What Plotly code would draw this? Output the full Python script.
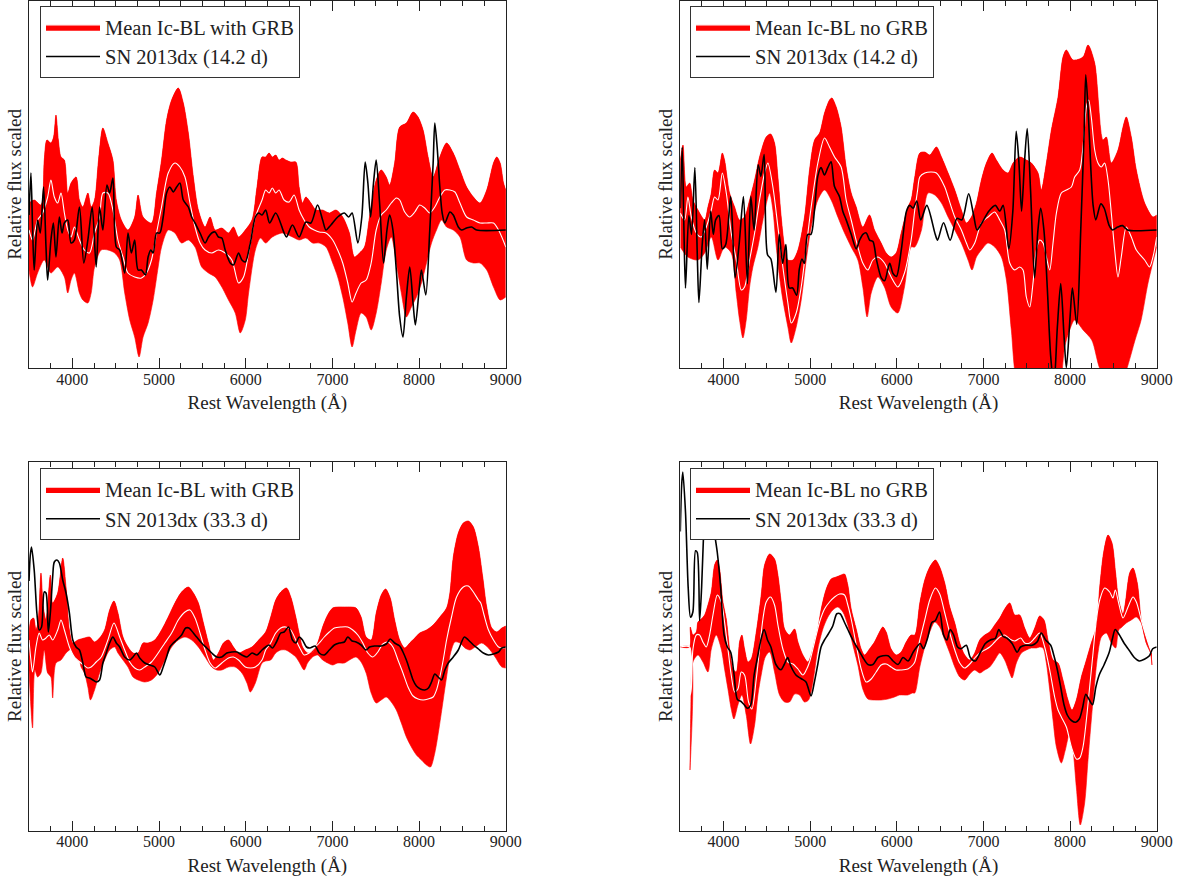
import plotly.graph_objects as go

# ---------------- data: (rest wavelength [A], relative flux) ----------------
# Panel 1: mean Ic-BL with GRB vs SN 2013dx (14.2 d)
grb14_upper = [(3500,27),(3560,30),(3638,25),(3676,70),(3707,90),(3753,87),(3784,93),(3811,115),(3839,90),(3869,73),(3908,70),(3947,37),(3985,47),(4043,53),(4082,30),(4121,23),(4179,37),(4217,23),(4256,30),(4302,70),(4352,102),(4410,87),(4468,70),(4507,30),(4565,10),(4642,0),(4719,13),(4758,35),(4816,13),(4913,7),(4971,37),(5029,70),(5087,110),(5145,130),(5222,142),(5280,127),(5338,97),(5396,53),(5454,20),(5531,3),(5589,13),(5647,0),(5724,2),(5801,-3),(5859,3),(5917,-7),(5995,0),(6072,10),(6130,43),(6188,73),(6230,73),(6269,77),(6307,73),(6346,75),(6385,70),(6423,72),(6462,70),(6520,68),(6578,68),(6616,43),(6655,27),(6694,33),(6752,27),(6810,20),(6887,20),(6964,17),(7041,20),(7119,13),(7196,-3),(7254,-27),(7312,-23),(7370,-17),(7428,13),(7505,50),(7563,60),(7621,53),(7660,45),(7718,67),(7776,103),(7853,107),(7930,118),(7988,113),(8046,100),(8104,73),(8162,53),(8239,73),(8317,87),(8394,77),(8471,60),(8548,43),(8626,33),(8703,27),(8780,40),(8858,67),(8896,73),(8935,67),(8974,47),(9000,40)]
grb14_lower = [(3500,-40),(3541,-57),(3599,-43),(3676,-30),(3753,-43),(3831,-37),(3908,-47),(3947,-63),(3985,-50),(4024,-43),(4082,-63),(4121,-70),(4179,-73),(4217,-63),(4256,-37),(4333,-20),(4410,-20),(4488,-23),(4546,-30),(4604,-63),(4662,-90),(4719,-107),(4770,-127),(4816,-107),(4874,-93),(4932,-70),(4990,-37),(5029,-17),(5106,0),(5183,-3),(5260,-13),(5338,-10),(5415,-17),(5492,-37),(5570,-43),(5647,-47),(5724,-57),(5801,-70),(5879,-83),(5937,-103),(5995,-90),(6033,-63),(6111,-20),(6170,-8),(6230,-13),(6307,-7),(6423,-3),(6539,-7),(6616,-10),(6694,-8),(6771,-13),(6848,-13),(6926,-17),(7003,-33),(7061,-47),(7119,-67),(7177,-93),(7227,-117),(7273,-100),(7331,-83),(7389,-87),(7447,-100),(7505,-83),(7563,-53),(7621,-20),(7679,-7),(7737,-33),(7795,-63),(7853,-87),(7911,-77),(7969,-67),(8027,-53),(8085,-33),(8143,-13),(8201,0),(8259,10),(8317,3),(8394,0),(8471,-7),(8548,-30),(8626,-33),(8703,-33),(8780,-40),(8858,-57),(8935,-70),(9000,-67)]
grb14_mean = [(3500,0),(3541,-10),(3599,10),(3657,17),(3715,33),(3753,50),(3792,33),(3831,27),(3869,37),(3908,17),(3947,0),(3985,-7),(4024,3),(4082,-10),(4140,-20),(4198,-23),(4256,-3),(4314,13),(4352,37),(4410,37),(4468,20),(4526,-10),(4584,-27),(4642,-43),(4719,-47),(4797,-48),(4855,-43),(4913,-30),(4971,-3),(5029,23),(5106,57),(5183,67),(5241,63),(5299,53),(5357,27),(5415,3),(5473,-13),(5531,-20),(5608,-23),(5685,-20),(5763,-23),(5840,-30),(5917,-53),(5975,-47),(6033,-23),(6111,13),(6188,30),(6230,40),(6269,37),(6307,42),(6346,37),(6385,40),(6443,30),(6500,28),(6558,35),(6616,20),(6674,10),(6732,3),(6790,0),(6848,-2),(6926,-3),(7003,-10),(7061,-20),(7119,-33),(7177,-53),(7227,-72),(7273,-63),(7331,-53),(7389,-50),(7447,-33),(7505,0),(7563,15),(7621,20),(7679,27),(7737,32),(7776,30),(7834,18),(7891,13),(7950,18),(8007,25),(8065,22),(8123,17),(8181,23),(8239,33),(8297,40),(8355,40),(8413,38),(8471,27),(8548,13),(8626,10),(8703,7),(8780,7),(8858,7),(8916,0),(8954,-7),(9000,-17)]

# SN 2013dx at 14.2 d (shared by panels 1 and 2)
sn14 = [(3500,15),(3522,57),(3541,3),(3560,-40),(3599,10),(3630,-3),(3668,43),(3696,-17),(3715,-50),(3753,-10),(3781,7),(3811,-27),(3850,13),(3881,-3),(3908,7),(3947,10),(3985,-13),(4024,-10),(4082,23),(4132,-33),(4179,-10),(4229,23),(4275,-37),(4314,23),(4352,0),(4399,45),(4430,37),(4468,52),(4507,-17),(4546,-20),(4604,-43),(4642,-3),(4681,-23),(4719,-10),(4758,-40),(4797,-40),(4843,-45),(4874,-27),(4905,-20),(4932,-23),(4971,-3),(5009,-3),(5048,13),(5087,37),(5125,43),(5164,38),(5203,43),(5241,47),(5280,30),(5338,23),(5376,13),(5415,7),(5473,-3),(5531,-13),(5570,-7),(5608,-3),(5647,-2),(5685,-7),(5724,-8),(5763,-20),(5821,-33),(5859,-35),(5917,-23),(5956,-30),(5995,-32),(6053,-13),(6111,13),(6149,17),(6188,15),(6230,20),(6276,7),(6346,17),(6443,-3),(6470,-7),(6539,5),(6616,-7),(6694,8),(6752,7),(6829,25),(6887,10),(6926,0),(6983,5),(7061,13),(7138,17),(7188,13),(7227,17),(7293,-13),(7339,13),(7378,68),(7409,47),(7440,13),(7474,47),(7505,70),(7544,27),(7590,-33),(7629,0),(7660,15),(7698,0),(7737,-40),(7776,-87),(7814,-107),(7853,-67),(7892,-37),(7930,-73),(7957,-95),(8000,-60),(8027,-40),(8077,-65),(8123,0),(8162,67),(8181,107),(8208,83),(8239,43),(8266,17),(8297,7),(8355,18),(8394,15),(8452,3),(8490,0),(8548,2),(8606,3),(8664,0),(9000,0)]

# Panel 2: mean Ic-BL without GRB
nogrb14_upper = [(3500,70),(3531,85),(3569,43),(3608,47),(3646,30),(3704,20),(3781,10),(3819,23),(3858,37),(3896,60),(3935,57),(3985,77),(4011,70),(4069,37),(4127,23),(4184,10),(4242,13),(4300,30),(4358,50),(4415,73),(4492,93),(4542,96),(4588,87),(4627,53),(4665,13),(4704,-17),(4742,-30),(4800,-30),(4858,-20),(4934,13),(4992,60),(5050,90),(5108,97),(5165,117),(5223,130),(5250,132),(5300,123),(5357,103),(5415,63),(5473,37),(5531,23),(5607,3),(5684,15),(5742,0),(5819,-13),(5877,-23),(5934,-27),(5992,-23),(6050,-3),(6127,23),(6165,30),(6207,53),(6265,77),(6322,78),(6380,75),(6457,83),(6515,73),(6592,57),(6669,40),(6745,20),(6803,7),(6861,13),(6919,27),(6976,50),(7034,67),(7099,77),(7149,70),(7226,60),(7284,57),(7342,67),(7418,73),(7495,70),(7553,67),(7630,57),(7668,40),(7726,67),(7784,100),(7861,133),(7918,173),(7957,180),(8034,170),(8149,173),(8207,185),(8284,167),(8380,90),(8418,93),(8476,67),(8553,80),(8611,103),(8649,113),(8707,93),(8765,60),(8861,27),(8957,13),(9000,15)]
nogrb14_lower = [(3500,-17),(3588,-27),(3704,-30),(3781,-23),(3858,-7),(3935,-30),(4011,-17),(4088,-23),(4146,-63),(4184,-90),(4223,-108),(4261,-90),(4300,-57),(4338,-37),(4396,-17),(4454,10),(4531,37),(4569,20),(4608,-17),(4646,-47),(4684,-70),(4742,-97),(4781,-113),(4838,-97),(4896,-70),(4954,-30),(5011,3),(5088,30),(5165,40),(5242,30),(5319,13),(5396,-3),(5473,-17),(5550,-30),(5607,-57),(5657,-87),(5704,-63),(5781,-47),(5857,-57),(5934,-77),(6011,-83),(6088,-57),(6165,-17),(6207,-17),(6284,0),(6361,37),(6438,35),(6515,27),(6592,13),(6669,0),(6745,-13),(6822,-30),(6868,-40),(6919,-27),(6976,-20),(7053,-13),(7130,-17),(7207,-27),(7265,-50),(7322,-100),(7380,-150),(7476,-167),(7592,-160),(7668,-140),(7745,-150),(7861,-167),(7938,-117),(7995,-100),(8053,-90),(8150,-100),(8250,-110),(8350,-140),(8450,-150),(8550,-160),(8650,-140),(8750,-110),(8820,-90),(8900,-53),(9000,-17)]
nogrb14_mean = [(3500,17),(3550,10),(3588,33),(3627,13),(3685,-3),(3742,-7),(3800,3),(3858,20),(3896,33),(3935,30),(3985,57),(4031,37),(4088,-3),(4146,-30),(4204,-60),(4242,-57),(4300,-30),(4358,-3),(4415,30),(4473,57),(4511,67),(4569,43),(4627,3),(4684,-37),(4742,-73),(4781,-93),(4838,-83),(4896,-57),(4954,-17),(5011,23),(5088,67),(5165,92),(5223,83),(5281,73),(5357,63),(5415,30),(5473,10),(5550,-17),(5607,-33),(5665,-40),(5723,-30),(5781,-27),(5857,-33),(5934,-47),(6011,-57),(6088,-43),(6165,-10),(6207,20),(6240,40),(6265,53),(6322,57),(6399,58),(6457,57),(6553,43),(6592,33),(6669,13),(6745,0),(6803,-13),(6842,-20),(6899,-13),(6976,7),(7053,13),(7130,18),(7188,10),(7245,0),(7303,-33),(7361,-40),(7418,-37),(7457,-40),(7495,-67),(7534,-77),(7572,-53),(7611,-20),(7649,-10),(7688,-13),(7726,-27),(7765,-40),(7803,-13),(7842,17),(7899,37),(7957,40),(8015,43),(8053,53),(8111,60),(8149,83),(8188,123),(8215,130),(8245,113),(8284,80),(8322,67),(8361,63),(8399,67),(8438,50),(8476,17),(8515,-20),(8553,-47),(8591,-27),(8649,3),(8707,-7),(8765,-20),(8861,-30),(8918,-37),(8957,-27),(9000,-7)]

# Panel 3: mean Ic-BL with GRB vs SN 2013dx (33.3 d)
grb33_upper = [(3500,10),(3522,27),(3553,29),(3580,17),(3607,27),(3638,74),(3665,40),(3696,27),(3746,72),(3773,44),(3831,54),(3889,89),(3927,60),(3966,17),(4005,4),(4063,7),(4140,9),(4198,10),(4256,5),(4314,9),(4372,17),(4430,37),(4480,46),(4526,34),(4584,10),(4642,0),(4700,-6),(4758,-6),(4816,4),(4874,4),(4951,7),(5029,17),(5106,30),(5183,44),(5260,55),(5338,60),(5396,54),(5454,44),(5512,24),(5570,4),(5627,-13),(5685,-6),(5743,4),(5801,7),(5859,0),(5917,-6),(5995,-3),(6072,0),(6149,7),(6230,15),(6288,30),(6346,47),(6404,55),(6470,59),(6520,50),(6578,30),(6616,14),(6655,0),(6713,-6),(6771,-5),(6829,4),(6887,20),(6945,32),(7003,39),(7061,40),(7138,40),(7215,40),(7273,39),(7331,30),(7389,10),(7447,7),(7505,34),(7563,52),(7613,58),(7667,49),(7718,27),(7776,7),(7834,-1),(7892,4),(7950,9),(8007,14),(8085,17),(8162,22),(8239,30),(8317,39),(8355,54),(8394,90),(8452,114),(8510,124),(8568,126),(8626,120),(8684,100),(8734,70),(8780,40),(8838,19),(8896,15),(8954,19),(9000,21)]
grb33_lower = [(3500,-23),(3522,-60),(3541,-81),(3568,-23),(3599,-30),(3638,-26),(3676,-3),(3715,-26),(3753,-30),(3773,-51),(3811,-16),(3869,-13),(3927,-6),(3966,-3),(4024,0),(4063,-3),(4101,-20),(4140,-26),(4179,-40),(4209,-53),(4256,-43),(4314,-26),(4372,-13),(4430,-3),(4488,0),(4526,-6),(4584,-13),(4642,-20),(4700,-30),(4758,-33),(4835,-35),(4913,-33),(4990,-26),(5067,-13),(5145,0),(5222,7),(5299,10),(5376,7),(5454,0),(5531,-10),(5608,-20),(5666,-23),(5724,-23),(5801,-20),(5879,-20),(5956,-26),(6014,-36),(6053,-45),(6111,-36),(6188,-16),(6230,-14),(6288,-13),(6346,-6),(6404,-3),(6462,-3),(6520,-6),(6578,-10),(6616,-15),(6674,-23),(6713,-16),(6771,-10),(6829,-8),(6887,-13),(6945,-16),(7003,-18),(7061,-16),(7138,-16),(7215,-12),(7273,-10),(7331,-15),(7389,-26),(7447,-46),(7505,-56),(7563,-53),(7621,-50),(7679,-55),(7737,-63),(7795,-76),(7853,-90),(7911,-100),(7969,-108),(8027,-113),(8085,-118),(8131,-120),(8181,-106),(8232,-80),(8278,-53),(8317,-30),(8363,-6),(8413,5),(8471,4),(8529,-1),(8587,-3),(8645,0),(8722,4),(8800,-1),(8877,-10),(8954,-20),(9000,-21)]
grb33_mean = [(3500,7),(3522,-13),(3541,-25),(3580,0),(3618,14),(3657,7),(3696,9),(3734,12),(3773,7),(3831,17),(3869,27),(3908,17),(3966,0),(4024,-10),(4101,-16),(4179,-21),(4217,-20),(4275,-15),(4333,-10),(4410,7),(4480,24),(4546,10),(4604,-3),(4662,-15),(4719,-21),(4777,-23),(4835,-20),(4913,-15),(4990,-6),(5067,4),(5145,14),(5222,27),(5299,35),(5357,37),(5415,29),(5473,14),(5531,-3),(5589,-16),(5647,-21),(5724,-16),(5801,-11),(5859,-10),(5917,-13),(5995,-20),(6053,-21),(6111,-20),(6188,-13),(6230,-3),(6288,4),(6346,14),(6404,19),(6462,20),(6520,17),(6578,7),(6636,-3),(6674,-8),(6732,-6),(6790,-1),(6848,4),(6906,10),(6964,15),(7022,19),(7099,20),(7177,20),(7235,17),(7293,12),(7351,4),(7409,-6),(7466,-10),(7524,-5),(7582,3),(7640,5),(7698,0),(7756,-13),(7814,-26),(7872,-40),(7930,-49),(7988,-52),(8046,-53),(8104,-52),(8162,-50),(8201,-43),(8239,-30),(8278,-13),(8317,7),(8374,30),(8432,50),(8510,60),(8568,61),(8626,55),(8684,47),(8711,44),(8749,32),(8800,17),(8858,7),(8916,0),(8974,-1),(9000,0)]

# SN 2013dx at 33.3 d (shared by panels 3 and 4)
sn33 = [(3500,66),(3515,92),(3529,100),(3560,77),(3591,34),(3618,17),(3645,20),(3676,55),(3696,54),(3723,15),(3746,34),(3773,70),(3792,85),(3823,87),(3850,84),(3889,67),(3927,54),(3966,34),(4005,7),(4043,0),(4082,-3),(4121,-16),(4159,-30),(4198,-31),(4237,-33),(4275,-35),(4314,-33),(4352,-16),(4391,-6),(4430,4),(4468,10),(4507,4),(4546,0),(4604,-10),(4662,-13),(4700,-10),(4739,-6),(4777,-11),(4835,-16),(4893,-18),(4951,-20),(5009,-28),(5048,-20),(5087,-10),(5125,0),(5164,4),(5203,7),(5260,12),(5307,19),(5345,19),(5396,14),(5434,10),(5492,4),(5550,-1),(5608,-6),(5666,-10),(5724,-10),(5782,-6),(5840,-5),(5898,-5),(5956,-8),(6014,-10),(6072,-6),(6130,-8),(6188,-3),(6230,0),(6269,2),(6307,-1),(6354,5),(6404,14),(6443,15),(6493,20),(6539,7),(6578,4),(6616,10),(6655,7),(6701,0),(6740,-1),(6802,1),(6848,-6),(6906,-8),(6964,-3),(7022,2),(7080,4),(7138,5),(7177,10),(7227,6),(7273,5),(7331,2),(7389,-3),(7428,0),(7486,1),(7563,1),(7621,3),(7667,8),(7718,4),(7776,1),(7814,-5),(7853,-13),(7892,-23),(7930,-33),(7969,-39),(8015,-42),(8065,-43),(8108,-41),(8143,-35),(8181,-27),(8220,-30),(8259,-33),(8297,-23),(8336,-16),(8394,-10),(8452,-3),(8490,5),(8521,10),(8568,7),(8626,2),(8684,-2),(8741,-6),(8800,-8),(8858,-7),(8916,-5),(8954,-1),(9000,0)]

# Panel 4: mean Ic-BL without GRB
nogrb33_upper = [(3500,0),(3608,0),(3615,20),(3646,12),(3685,15),(3704,25),(3742,28),(3781,32),(3819,42),(3858,55),(3896,82),(3927,87),(3954,78),(3992,45),(4031,28),(4069,-2),(4108,-22),(4146,-25),(4184,5),(4211,12),(4242,-2),(4281,-15),(4319,-12),(4377,15),(4434,52),(4473,82),(4531,93),(4588,88),(4627,72),(4665,45),(4704,18),(4761,12),(4819,18),(4858,5),(4915,-8),(4973,-15),(5011,-8),(5050,5),(5088,18),(5127,38),(5185,58),(5242,68),(5300,70),(5357,72),(5396,73),(5434,62),(5473,38),(5531,18),(5588,-2),(5627,-8),(5684,-2),(5742,5),(5800,15),(5838,20),(5877,15),(5934,-2),(5992,-8),(6050,-5),(6108,5),(6165,12),(6207,12),(6265,44),(6322,67),(6380,80),(6445,87),(6495,80),(6553,64),(6611,40),(6669,24),(6726,4),(6784,-8),(6842,-13),(6899,-6),(6957,7),(7015,12),(7072,15),(7130,22),(7188,29),(7245,38),(7303,44),(7361,32),(7418,32),(7476,19),(7534,9),(7592,19),(7649,31),(7699,27),(7745,7),(7803,-13),(7861,-16),(7918,-33),(7976,-53),(8022,-63),(8072,-53),(8130,-30),(8188,-13),(8245,4),(8303,20),(8342,60),(8388,95),(8438,112),(8484,104),(8526,74),(8561,47),(8611,33),(8638,44),(8688,74),(8726,79),(8776,64),(8822,27),(8880,4),(8930,-6),(8945,-18)]
nogrb33_lower = [(3500,0),(3608,0),(3612,-123),(3622,-60),(3646,-15),(3704,-8),(3761,-15),(3819,-25),(3858,-2),(3915,12),(3973,-2),(4011,-22),(4050,-42),(4088,-62),(4119,-72),(4165,-58),(4211,-48),(4261,-68),(4311,-97),(4358,-78),(4396,-48),(4434,-28),(4481,-10),(4531,-5),(4588,-25),(4646,-48),(4704,-55),(4761,-55),(4819,-47),(4877,-48),(4934,-55),(4981,-53),(5031,-35),(5088,-2),(5146,18),(5204,30),(5261,37),(5319,40),(5377,35),(5434,22),(5492,2),(5550,-18),(5607,-42),(5665,-52),(5742,-53),(5819,-53),(5896,-52),(5973,-50),(6031,-48),(6127,-48),(6180,-46),(6207,-46),(6265,-20),(6322,0),(6380,15),(6438,25),(6495,20),(6553,7),(6611,-6),(6669,-20),(6726,-30),(6784,-33),(6842,-27),(6899,-23),(6957,-26),(7015,-23),(7072,-20),(7130,-13),(7188,-6),(7245,-13),(7303,-26),(7330,-31),(7380,-16),(7438,-6),(7495,-3),(7553,-1),(7611,-1),(7649,0),(7688,-1),(7726,-16),(7765,-43),(7803,-73),(7842,-100),(7899,-116),(7945,-103),(7995,-86),(8034,-103),(8072,-140),(8118,-178),(8168,-156),(8207,-113),(8245,-73),(8284,-36),(8322,-6),(8361,10),(8418,14),(8476,4),(8526,-1),(8561,17),(8599,20),(8649,24),(8707,27),(8765,30),(8822,24),(8880,4),(8930,-6),(8945,-18)]
nogrb33_mean = [(3500,0),(3608,0),(3615,-48),(3627,-42),(3646,-2),(3685,12),(3723,12),(3761,5),(3800,0),(3838,12),(3877,32),(3927,52),(3973,45),(4011,25),(4050,-2),(4088,-28),(4127,-45),(4165,-42),(4204,-25),(4242,-28),(4288,-55),(4327,-62),(4377,-32),(4415,-2),(4454,28),(4492,45),(4542,50),(4588,42),(4627,22),(4684,-2),(4742,-15),(4800,-17),(4858,-22),(4915,-28),(4954,-23),(4992,-15),(5050,5),(5108,25),(5165,38),(5223,45),(5281,50),(5338,53),(5396,52),(5434,42),(5473,28),(5531,2),(5588,-22),(5646,-35),(5704,-32),(5761,-25),(5819,-18),(5877,-17),(5934,-20),(5992,-23),(6050,-23),(6127,-22),(6184,-18),(6207,-15),(6265,7),(6322,27),(6380,47),(6445,59),(6495,53),(6553,34),(6611,14),(6669,-3),(6726,-16),(6784,-21),(6842,-17),(6899,-11),(6957,-6),(7015,-3),(7072,0),(7130,5),(7188,10),(7245,12),(7303,8),(7361,6),(7430,9),(7476,4),(7534,4),(7592,9),(7649,14),(7707,0),(7765,-23),(7822,-50),(7861,-63),(7899,-70),(7957,-80),(8015,-100),(8072,-112),(8111,-111),(8149,-100),(8188,-73),(8226,-40),(8265,-6),(8303,27),(8342,47),(8399,59),(8457,55),(8495,49),(8522,57),(8561,44),(8611,29),(8669,40),(8726,50),(8765,45),(8822,27),(8880,10),(8918,0),(8945,-6)]

# relative scaling of the SN spectrum in each panel
sn_scale = [1.0, 1.45, 1.0, 1.75]

mean_labels = ["Mean Ic-BL with GRB", "Mean Ic-BL no GRB", "Mean Ic-BL with GRB", "Mean Ic-BL no GRB"]
sn_labels = ["SN 2013dx (14.2 d)", "SN 2013dx (14.2 d)", "SN 2013dx (33.3 d)", "SN 2013dx (33.3 d)"]

bands = [
    (grb14_upper, grb14_lower, grb14_mean, sn14),
    (nogrb14_upper, nogrb14_lower, nogrb14_mean, sn14),
    (grb33_upper, grb33_lower, grb33_mean, sn33),
    (nogrb33_upper, nogrb33_lower, nogrb33_mean, sn33),
]

# ---------------- figure ----------------
W, H = 1178, 879
RED = "#ff0000"
FONT = "Liberation Serif"
INK = "#222222"

fig = go.Figure()


def xy(pairs, k=1.0):
    return [p[0] for p in pairs], [p[1] * k for p in pairs]


legend_ids = ["legend", "legend2", "legend3", "legend4"]
for i, (up, lo, mn, sn) in enumerate(bands):
    ax = "" if i == 0 else str(i + 1)
    xa, ya = "x" + ax, "y" + ax
    spline = dict(shape="spline", smoothing=0.8)
    lx, ly = xy(lo)
    ux, uy = xy(up)
    mx, my = xy(mn)
    sx, sy = xy(sn, sn_scale[i])
    fig.add_trace(go.Scatter(x=lx, y=ly, mode="lines", line=dict(color=RED, width=0.6, **spline),
                             showlegend=False, hoverinfo="skip", xaxis=xa, yaxis=ya))
    fig.add_trace(go.Scatter(x=ux, y=uy, mode="lines", line=dict(color=RED, width=0.6, **spline),
                             fill="tonexty", fillcolor=RED, showlegend=False, hoverinfo="skip",
                             xaxis=xa, yaxis=ya))
    fig.add_trace(go.Scatter(x=mx, y=my, mode="lines", line=dict(color="white", width=1.1, **spline),
                             fill="tonexty", fillcolor=RED, name=mean_labels[i],
                             legend=legend_ids[i], legendgroup="mean%d" % i,
                             xaxis=xa, yaxis=ya))
    fig.add_trace(go.Scatter(x=sx, y=sy, mode="lines", line=dict(color="black", width=1.6, **spline),
                             name=sn_labels[i], legend=legend_ids[i], legendgroup="sn%d" % i,
                             xaxis=xa, yaxis=ya))

# panel geometry (pixels)
x_dom = [(29, 505.8), (680.3, 1156.7)]
y_dom = [(0.5, 368.3), (462.3, 830.7)]
y_rng = [(-138.3, 229.5), (-183.7, 184.7)]

common_x = dict(range=[3500, 9000], dtick=1000, tick0=0, tickformat="d",
                ticks="inside", ticklen=10, tickwidth=1, tickcolor=INK,
                mirror="allticks", showline=True, linecolor=INK, linewidth=1,
                showgrid=False, zeroline=False, automargin=False,
                ticklabelstandoff=-4,
                minor=dict(dtick=250, tick0=0, ticks="inside", ticklen=5, tickwidth=1,
                           tickcolor=INK, showgrid=False),
                tickfont=dict(family=FONT, size=16, color=INK),
                title=dict(text="Rest Wavelength (Å)", font=dict(family=FONT, size=19, color=INK),
                           standoff=9))
common_y = dict(showticklabels=False, ticks="", showline=True, mirror=True, linecolor=INK,
                linewidth=1, showgrid=False, zeroline=False, automargin=False,
                title=dict(text="Relative flux scaled", font=dict(family=FONT, size=19, color=INK),
                           standoff=1))

layout = dict(width=W, height=H, margin=dict(l=0, r=0, t=0, b=0),
              paper_bgcolor="white", plot_bgcolor="white",
              font=dict(family=FONT, color=INK))
for i in range(4):
    r, c = divmod(i, 2)
    ax = "" if i == 0 else str(i + 1)
    x0, x1 = x_dom[c]
    y0, y1 = y_dom[r]
    layout["xaxis" + ax] = dict(common_x, domain=[x0 / W, x1 / W], anchor="y" + ax)
    layout["yaxis" + ax] = dict(common_y, domain=[1 - y1 / H, 1 - y0 / H], range=list(y_rng[r]),
                                anchor="x" + ax)
    lx_px = [40, 690][c]
    ly_px = [6, 468.3][r]
    layout[legend_ids[i]] = dict(x=lx_px / W, y=1 - ly_px / H, xanchor="left", yanchor="top",
                                 bgcolor="white", bordercolor="#333333", borderwidth=1,
                                 font=dict(family=FONT, size=20.5, color=INK),
                                 itemwidth=54, traceorder="grouped", tracegroupgap=0)

fig.update_layout(**layout)
# the page body would otherwise add an 8 px offset around the figure
fig.write_html("out.html", config={"displayModeBar": False},
               post_script="document.body.style.margin='0';")
